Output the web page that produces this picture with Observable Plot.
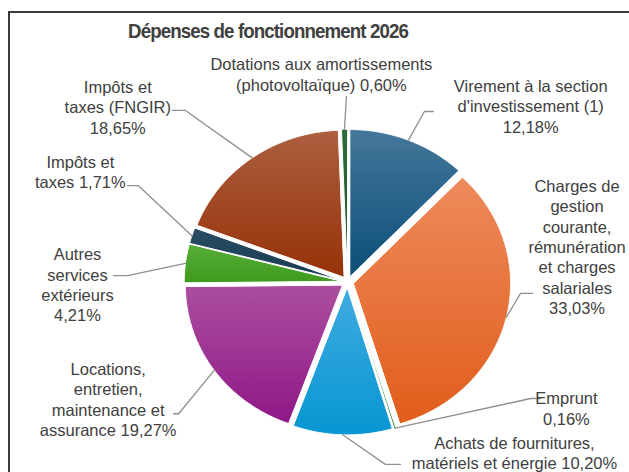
<!DOCTYPE html>
<html><head><meta charset="utf-8">
<script src="https://cdn.jsdelivr.net/npm/d3@7"></script>
<script src="https://cdn.jsdelivr.net/npm/@observablehq/plot@0.6"></script>
<style>
html,body{margin:0;padding:0;background:#fff;}
body{overflow:hidden;width:629px;height:472px;position:relative;font-family:"Liberation Sans",Arial,sans-serif;}
#chart{position:absolute;left:0;top:0;}
#title{position:absolute;left:0;width:536px;top:20px;line-height:21px;text-align:center;font-weight:bold;font-size:21px;color:#404040;letter-spacing:-1px;transform:scaleX(0.89);transform-origin:268px 0;white-space:nowrap;}
#frame{position:absolute;left:8px;top:11px;width:800px;height:800px;border-left:2px solid #3a3a3a;border-top:2px solid #3a3a3a;pointer-events:none;}
</style></head><body>
<div id="chart"></div>
<div id="title">Dépenses de fonctionnement 2026</div>
<div id="frame"></div>
<script>
// ---- data (clockwise from 12 o'clock) ----
const categories = [
  "Virement à la section\nd'investissement (1)",
  "Charges de\ngestion\ncourante,\nrémunération\net charges\nsalariales",
  "Emprunt",
  "Achats de fournitures,\nmatériels et énergie",
  "Locations,\nentretien,\nmaintenance et\nassurance",
  "Autres\nservices\nextérieurs",
  "Impôts et\ntaxes",
  "Impôts et\ntaxes (FNGIR)",
  "Dotations aux amortissements\n(photovoltaïque)"
];
const values = [12.18, 33.03, 0.16, 10.20, 19.27, 4.21, 1.71, 18.65, 0.60];
const colorsTop    = ["#45779b", "#ee8a5c", "#4a9e45", "#40abe0", "#ab4f9f", "#58ae38", "#2a4d64", "#ad5f40", "#2f6b3a"];
const colorsBottom = ["#0a4e77", "#e15d1b", "#2f8a34", "#0796d2", "#8f1787", "#3d9a1c", "#163a50", "#963208", "#1c5628"];

// ---- label layout (polar: degrees clockwise from top, distance in pie radii) ----
const pctSep   = ["\n", "\n", "\n", " ", " ", "\n", " ", "\n", " "];
const labelPos = [[44.2,1.674],[80.6,1.482],[121.6,1.637],[137.5,1.574],[242.4,1.720],[269.5,1.720],[293.8,1.860],[309.2,1.888],[353.3,1.426]];
const elbowPos = [[22.9,1.259],[94.0,1.105],[124.2,1.410],[169.0,1.264],[230.2,1.400],[271.8,1.402],[296.2,1.484],[318.5,1.558],[359.7,1.263]];
const tailPx   = [9, 12, 10, 15, -5, -14, -11, -13, 0];

const cx = 347, cy = 281.5, rx = 157, ry = 147, explode = 0.04;
const rad = d => d * Math.PI / 180;
const total = d3.sum(values);
let acc = 0;
const slices = values.map((v, i) => {
  const a0 = acc / total * 2 * Math.PI; acc += v;
  const a1 = acc / total * 2 * Math.PI;
  return {i, a0, a1, mid: (a0 + a1) / 2};
});

const slicePts = [];
for (const s of slices) {
  const ox = explode * Math.sin(s.mid), oy = explode * Math.cos(s.mid);
  slicePts.push({k: s.i, x: ox, y: oy});
  const n = Math.max(2, Math.ceil((s.a1 - s.a0) / (Math.PI / 360)));
  for (let j = 0; j <= n; j++) {
    const a = s.a0 + (s.a1 - s.a0) * j / n;
    slicePts.push({k: s.i, x: ox + Math.sin(a), y: oy + Math.cos(a)});
  }
}

const leaderPts = [];
slices.forEach(s => {
  const r0 = 1 + explode;
  const [ea, er] = elbowPos[s.i];
  const ex = er * Math.sin(rad(ea)), ey = er * Math.cos(rad(ea));
  leaderPts.push({k: s.i, x: r0 * Math.sin(s.mid), y: r0 * Math.cos(s.mid)});
  leaderPts.push({k: s.i, x: ex, y: ey});
  if (tailPx[s.i]) leaderPts.push({k: s.i, x: ex + tailPx[s.i] / rx, y: ey});
});

const labels = slices.map(s => {
  const [la, lr] = labelPos[s.i];
  return {
    x: lr * Math.sin(rad(la)), y: lr * Math.cos(rad(la)),
    text: categories[s.i] + pctSep[s.i] + values[s.i].toFixed(2).replace(".", ",") + "%"
  };
});

const chart = Plot.plot({
  width: 629, height: 472, margin: 0,
  style: {fontFamily: "'Liberation Sans', Arial, sans-serif", background: "transparent"},
  x: {domain: [-1, 1], range: [cx - rx, cx + rx], axis: null},
  y: {domain: [-1, 1], range: [cy + ry, cy - ry], axis: null},
  color: {type: "identity"},
  marks: [
    Plot.line(slicePts, {x: "x", y: "y", z: "k", fill: d => `url(#g${d.k})`, stroke: "white", strokeWidth: 1, curve: "linear-closed"}),
    Plot.line(leaderPts, {x: "x", y: "y", z: "k", stroke: "#8f8f8f", strokeWidth: 1.3}),
    Plot.text(labels, {x: "x", y: "y", text: "text", fontSize: 16.5, lineHeight: 1.24, fill: "#404040", textAnchor: "middle", lineAnchor: "middle"})
  ]
});

const defs = d3.select(chart).insert("defs", ":first-child");
values.forEach((v, i) => {
  const g = defs.append("linearGradient").attr("id", `g${i}`).attr("x1", 0).attr("y1", 0).attr("x2", 0).attr("y2", 1);
  g.append("stop").attr("offset", "0%").attr("stop-color", colorsTop[i]);
  g.append("stop").attr("offset", "100%").attr("stop-color", colorsBottom[i]);
});
document.getElementById("chart").appendChild(chart);
</script>
</body></html>
